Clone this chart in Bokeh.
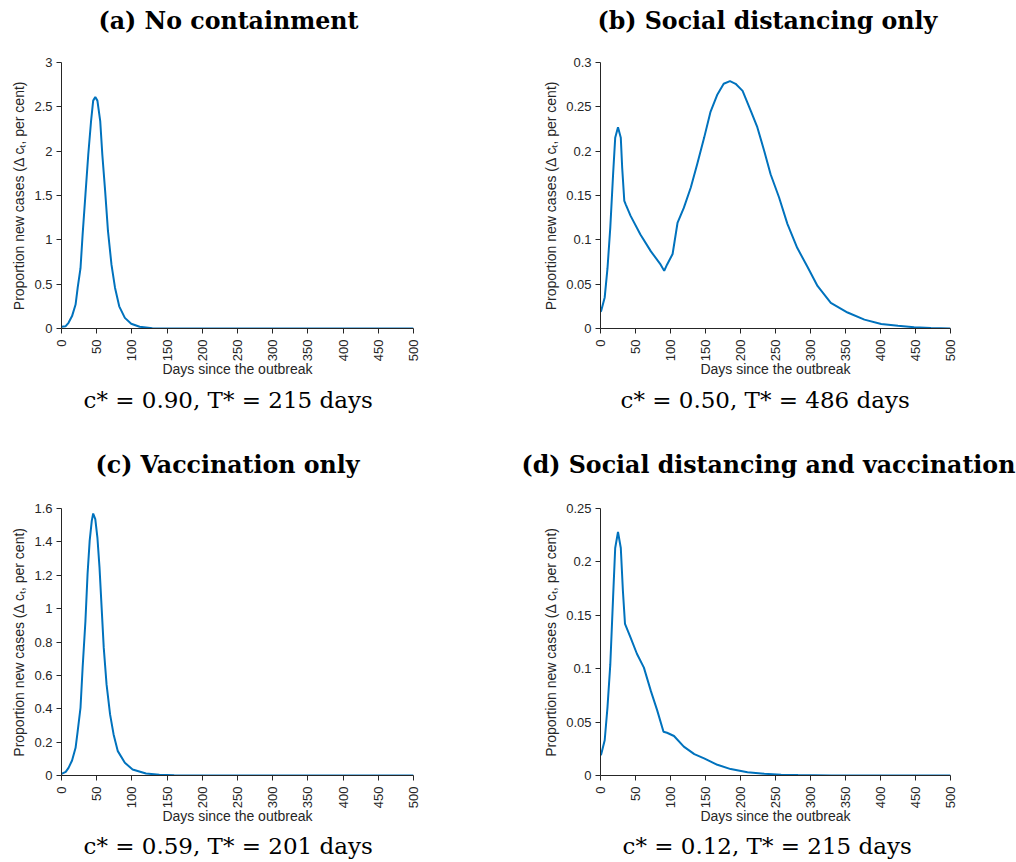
import math
from bokeh.plotting import figure
from bokeh.models import FixedTicker, CustomJSTickFormatter, Title, Range1d, LinearAxis
from bokeh.layouts import row, column
from bokeh.embed import file_html
from bokeh.resources import INLINE

# ---------------- data ----------------
x_ticks = [0, 50, 100, 150, 200, 250, 300, 350, 400, 450, 500]

days_a = [0, 6, 10, 15, 20, 23, 27, 30, 34, 38, 42, 45, 48, 51, 55, 58, 62, 66, 71, 76, 82, 90, 99, 111, 129, 150, 200, 300, 400, 500]
cases_a = [0.02, 0.026, 0.064, 0.14, 0.27, 0.46, 0.68, 1.06, 1.51, 1.96, 2.34, 2.57, 2.61, 2.57, 2.34, 1.96, 1.55, 1.10, 0.72, 0.46, 0.25, 0.12, 0.053, 0.019, 0.004, 0.001, 0.0, 0.0, 0.0, 0.0]
yticks_a = [0, 0.5, 1, 1.5, 2, 2.5, 3]

days_b = [0, 1, 6, 10, 14, 18, 21, 25, 29, 31, 34, 36, 43, 57, 72, 86, 91, 95, 103, 110, 119, 129, 138, 148, 157, 167, 176, 185, 193, 203, 215, 224, 234, 243, 255, 267, 281, 296, 310, 329, 353, 377, 401, 425, 448, 472, 500]
cases_b = [0.019, 0.020, 0.035, 0.068, 0.114, 0.174, 0.215, 0.227, 0.215, 0.181, 0.144, 0.140, 0.127, 0.106, 0.087, 0.072, 0.065, 0.072, 0.084, 0.119, 0.136, 0.159, 0.185, 0.215, 0.244, 0.264, 0.276, 0.279, 0.276, 0.268, 0.245, 0.227, 0.200, 0.174, 0.148, 0.118, 0.091, 0.069, 0.048, 0.029, 0.018, 0.010, 0.005, 0.003, 0.0015, 0.0007, 0.0]
yticks_b = [0, 0.05, 0.1, 0.15, 0.2, 0.25, 0.3]

days_c = [0, 6, 10, 15, 20, 23, 27, 30, 34, 37, 40, 43, 45, 48, 51, 54, 57, 60, 64, 69, 74, 80, 90, 101, 120, 139, 160, 200, 300, 400, 500]
cases_c = [0.01, 0.022, 0.046, 0.09, 0.166, 0.266, 0.406, 0.646, 0.926, 1.206, 1.406, 1.526, 1.57, 1.536, 1.426, 1.246, 1.006, 0.766, 0.546, 0.366, 0.246, 0.146, 0.076, 0.036, 0.012, 0.004, 0.001, 0.0, 0.0, 0.0, 0.0]
yticks_c = [0, 0.2, 0.4, 0.6, 0.8, 1, 1.2, 1.4, 1.6]

days_d = [0, 1, 6, 10, 14, 18, 21, 25, 29, 32, 35, 43, 52, 62, 72, 81, 90, 95, 105, 119, 134, 148, 167, 186, 210, 234, 258, 282, 330, 500]
cases_d = [0.019, 0.020, 0.033, 0.064, 0.104, 0.167, 0.213, 0.228, 0.213, 0.173, 0.142, 0.129, 0.114, 0.101, 0.079, 0.061, 0.041, 0.040, 0.037, 0.027, 0.020, 0.016, 0.010, 0.006, 0.003, 0.0016, 0.0007, 0.0004, 0.0, 0.0]
yticks_d = [0, 0.05, 0.1, 0.15, 0.2, 0.25]

titles = ["(a) No containment", "(b) Social distancing only",
          "(c) Vaccination only", "(d) Social distancing and vaccination"]
captions = ["c* = 0.90, T* = 215 days", "c* = 0.50, T* = 486 days",
            "c* = 0.59, T* = 201 days", "c* = 0.12, T* = 215 days"]

x_label = "Days since the outbreak"
y_label = "Proportion new cases (\u0394 c\u209c, per cent)"

AX = "#262626"
LINE = "#0072BD"


def spacer(px):
    # an axis without visible marks or labels, used only to reserve space
    return LinearAxis(ticker=FixedTicker(ticks=[500]), major_tick_out=px, major_tick_in=0,
                      minor_tick_out=0, minor_tick_in=0, major_label_standoff=0,
                      major_label_text_font_size="1px", major_label_text_color=None,
                      axis_line_color=None, major_tick_line_color="white",
                      minor_tick_line_color=None)


def panel(title, caption, days, vals, yticks, fw, fh, left, right, top, bottom,
          title_off, cap_off, gap_top, cap_standoff):
    p = figure(width=left + fw + right, height=top + fh + bottom, title=None,
               min_border_left=left, min_border_right=right,
               min_border_top=top, min_border_bottom=bottom,
               x_range=Range1d(0, 500), y_range=Range1d(yticks[0], yticks[-1]),
               output_backend="svg", toolbar_location=None, tools="")
    p.outline_line_color = None
    p.grid.visible = False
    p.line(days, vals, line_color=LINE, line_width=2)

    xa = p.xaxis[0]
    xa.ticker = FixedTicker(ticks=x_ticks)
    xa.formatter = CustomJSTickFormatter(code="return String(Math.round(tick*1000)/1000);")
    xa.major_label_orientation = math.pi / 2
    ya = p.yaxis[0]
    ya.ticker = FixedTicker(ticks=yticks)
    ya.formatter = CustomJSTickFormatter(code="return String(Math.round(tick*1000)/1000);")
    for ax in (xa, ya):
        ax.minor_tick_line_color = None
        ax.major_tick_in = 0
        ax.major_tick_out = 5
        ax.axis_line_color = AX
        ax.major_tick_line_color = AX
        ax.axis_line_width = 1
        ax.major_label_text_color = AX
        ax.major_label_text_font = "Liberation Sans"
        ax.major_label_text_font_size = "13px"
        ax.axis_label_text_font = "Liberation Sans"
        ax.axis_label_text_font_size = "14px"
        ax.axis_label_text_font_style = "normal"
        ax.axis_label_text_color = AX
    xa.axis_label = x_label
    xa.major_label_standoff = 6
    xa.axis_label_standoff = -3
    ya.axis_label = y_label
    ya.major_label_standoff = 4
    ya.axis_label_standoff = 4

    p.add_layout(spacer(gap_top), "above")
    p.add_layout(Title(text=title, align="left", offset=title_off,
                       text_font="DejaVu Serif", text_font_style="bold",
                       text_font_size="23.7px", text_color="black", standoff=0), "above")

    p.add_layout(Title(text=caption, align="left", offset=cap_off,
                       text_font="DejaVu Serif", text_font_style="normal",
                       text_font_size="23px", text_color="black",
                       vertical_align="bottom", standoff=cap_standoff), "below")
    return p


pa = panel(titles[0], captions[0], days_a, cases_a, yticks_a, 352, 266, 61, 90, 62, 112, 37, 22, 28, 8)
pb = panel(titles[1], captions[1], days_b, cases_b, yticks_b, 350, 266, 97, 66, 62, 112, -3, 20, 28, 8)
pc = panel(titles[2], captions[2], days_c, cases_c, yticks_c, 352, 267, 61, 90, 68, 87, 34, 22, 30, 6)
pd = panel(titles[3], captions[3], days_d, cases_d, yticks_d, 350, 267, 97, 66, 68, 87, -79, 22, 30, 6)

layout = column(row(pa, pb, spacing=0), row(pc, pd, spacing=0), spacing=0)

open("out.html", "w").write(file_html(layout, INLINE))
